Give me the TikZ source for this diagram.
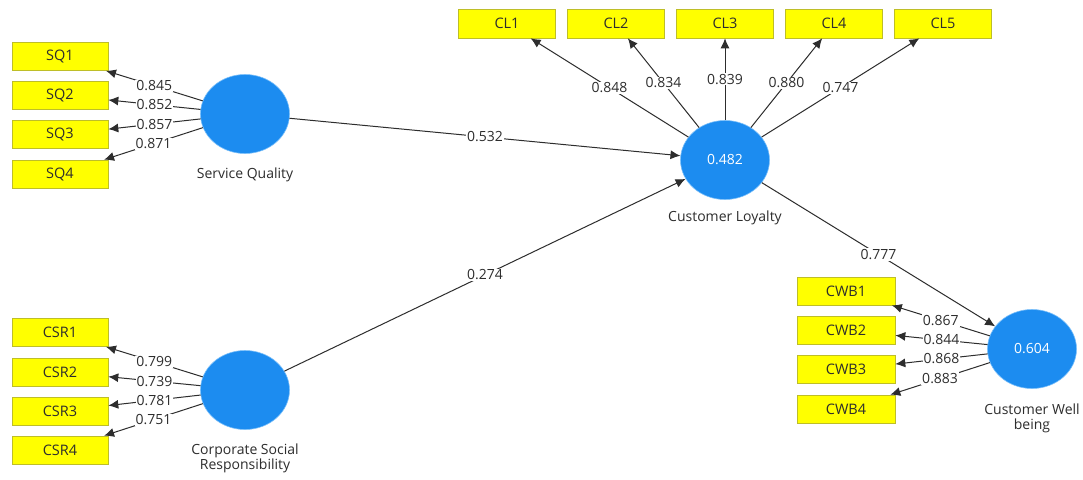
\documentclass[tikz,border=0pt]{standalone}
\usepackage{fontspec}
\setmainfont{Open Sans}
\usetikzlibrary{arrows.meta,shapes.geometric}

\definecolor{boxfill}{RGB}{255,255,0}
\definecolor{boxedge}{RGB}{190,190,40}
\definecolor{lvblue}{RGB}{28,140,240}
\definecolor{lvedge}{RGB}{120,190,250}
\definecolor{linkgray}{RGB}{45,45,45}
\definecolor{txtgray}{RGB}{45,45,45}

\begin{document}
\begin{tikzpicture}[x=1pt,y=-1pt,
  txt/.style={font=\fontsize{14}{16}\selectfont, text=txtgray},
  ind/.style={txt, font=\fontsize{14.5}{16}\selectfont, draw=boxedge,
    fill=boxfill, line width=0.6pt,
    minimum width=96pt, minimum height=28pt, inner sep=0pt},
  lv/.style={ellipse, fill=lvblue, draw=lvedge, line width=0.6pt,
    minimum width=89pt, minimum height=79pt, inner sep=0pt,
    text=white, font=\fontsize{14}{16}\selectfont},
  lvcap/.style={txt, align=center, inner sep=0pt},
  link/.style={draw=linkgray, line width=1pt,
    -{Latex[length=10pt,width=9pt]}},
  coef/.style={txt, fill=white, inner sep=1pt}]

\useasboundingbox[fill=white] (0,0) rectangle (1083,479);

% latent variables
\node[lv] (sq)  at (245,114) {};
\node[lv] (csr) at (245,390) {};
\node[lv] (cl)  at (725,160) {0.482};
\node[lv] (cwb) at (1032,349) {0.604};

\node[lvcap] (sqcap)  at (245,175) {Service Quality};
\node[lvcap] (csrcap) at (245,458) {Corporate Social\\[-1pt]Responsibility};
\node[lvcap] (clcap)  at (725,218) {Customer Loyalty};
\node[lvcap] (cwbcap) at (1032,418) {Customer Well\\[-1pt]being};

% indicators
\node[ind] (sq1) at (60,56.5) {SQ1};
\node[ind] (sq2) at (60,95)   {SQ2};
\node[ind] (sq3) at (60,134.5){SQ3};
\node[ind] (sq4) at (60,174)  {SQ4};

\node[ind] (csr1) at (60,332.5){CSR1};
\node[ind] (csr2) at (60,372)  {CSR2};
\node[ind] (csr3) at (60,411)  {CSR3};
\node[ind] (csr4) at (60,450)  {CSR4};

\node[ind, minimum width=97pt, minimum height=29pt] (cl1) at (507,23.5) {CL1};
\node[ind, minimum width=97pt, minimum height=29pt] (cl2) at (616,23.5) {CL2};
\node[ind, minimum width=97pt, minimum height=29pt] (cl3) at (725,23.5) {CL3};
\node[ind, minimum width=97pt, minimum height=29pt] (cl4) at (834,23.5) {CL4};
\node[ind, minimum width=97pt, minimum height=29pt] (cl5) at (943,23.5) {CL5};

\node[ind, minimum width=98pt] (cwb1) at (846,291)   {CWB1};
\node[ind, minimum width=98pt] (cwb2) at (846,330.5) {CWB2};
\node[ind, minimum width=98pt] (cwb3) at (846,369.5) {CWB3};
\node[ind, minimum width=98pt] (cwb4) at (846,409)   {CWB4};

% outer loadings
\draw[link] (sq) -- node[coef] {0.845} (sq1);
\draw[link] (sq) -- node[coef] {0.852} (sq2);
\draw[link] (sq) -- node[coef] {0.857} (sq3);
\draw[link] (sq) -- node[coef] {0.871} (sq4);

\draw[link] (csr) -- node[coef] {0.799} (csr1);
\draw[link] (csr) -- node[coef] {0.739} (csr2);
\draw[link] (csr) -- node[coef] {0.781} (csr3);
\draw[link] (csr) -- node[coef] {0.751} (csr4);

\draw[link] (cl) -- node[coef] {0.848} (cl1);
\draw[link] (cl) -- node[coef] {0.834} (cl2);
\draw[link] (cl) -- node[coef] {0.839} (cl3);
\draw[link] (cl) -- node[coef] {0.880} (cl4);
\draw[link] (cl) -- node[coef] {0.747} (cl5);

\draw[link] (cwb) -- node[coef] {0.867} (cwb1);
\draw[link] (cwb) -- node[coef] {0.844} (cwb2);
\draw[link] (cwb) -- node[coef] {0.868} (cwb3);
\draw[link] (cwb) -- node[coef] {0.883} (cwb4);

% path coefficients
\draw[link] (sq)  -- node[coef] {0.532} (cl);
\draw[link] (csr) -- node[coef] {0.274} (cl);
\draw[link] (cl)  -- node[coef] {0.777} (cwb);

\end{tikzpicture}
\end{document}
